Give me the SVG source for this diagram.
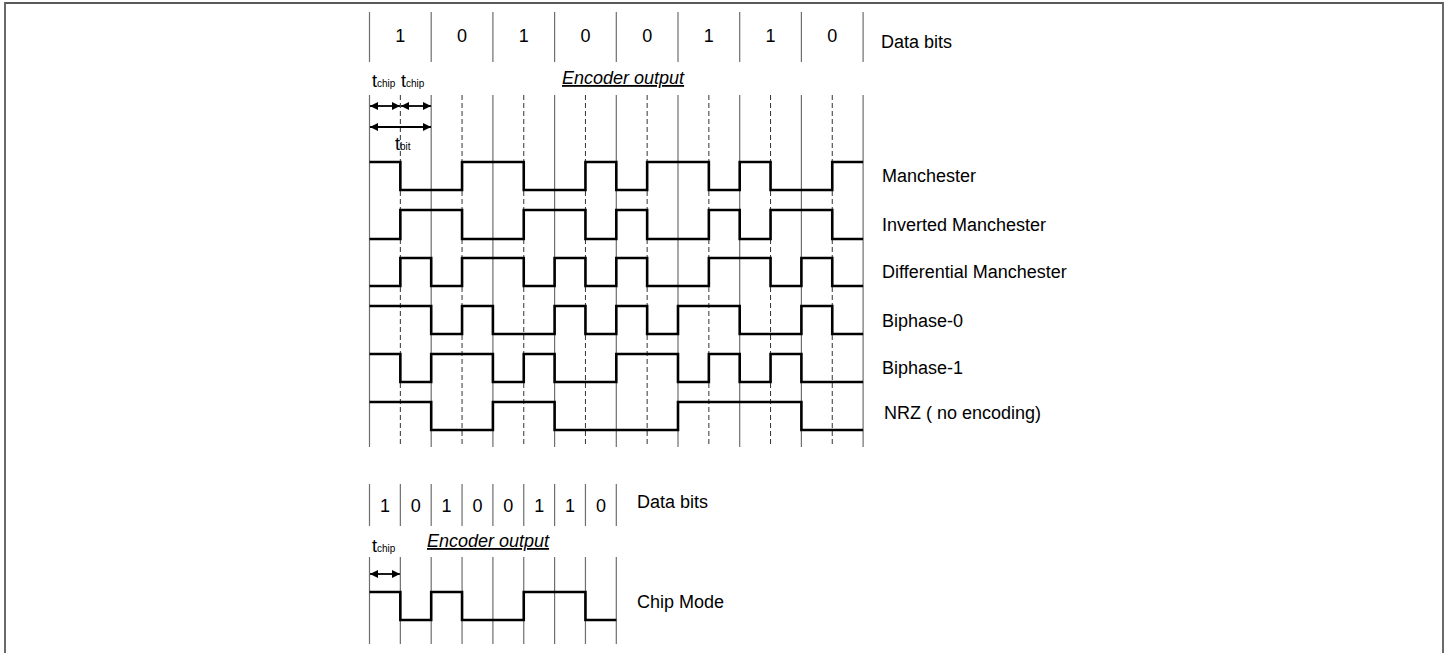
<svg xmlns="http://www.w3.org/2000/svg" width="1448" height="653" viewBox="0 0 1448 653">
<defs>
<style>
text{font-family:"Liberation Sans",Arial,sans-serif;font-size:18px;fill:#000}
.c{text-anchor:middle}
.ital{font-style:italic;text-decoration:underline}
.sub{font-size:10px}
.grid{stroke:#6e6e6e;stroke-width:1.2;fill:none}
.dash{stroke:#333;stroke-width:1;stroke-dasharray:5 3;fill:none}
.wave{stroke:#000;stroke-width:2.6;fill:none;stroke-linejoin:miter}
.arr{stroke:#000;stroke-width:1.8;fill:none;marker-start:url(#ah);marker-end:url(#ah)}
.border{stroke:#5a5a5a;stroke-width:1.8;fill:none}
</style>
<marker id="ah" viewBox="0 0 10 10" refX="10" refY="5" markerUnits="userSpaceOnUse" markerWidth="8" markerHeight="11" orient="auto-start-reverse">
<path d="M0,0 L10,5 L0,10 z" fill="#000"/>
</marker>
</defs>
<rect width="1448" height="653" fill="#fff"/>
<path class="border" d="M5,653 V3 H1443 V653"/>

<g id="top-data-bits">
<path class="grid" d="M369.5,12 V62 M431.2,12 V62 M492.9,12 V62 M554.6,12 V62 M616.3,12 V62 M678,12 V62 M739.7,12 V62 M801.4,12 V62 M863.1,12 V62"/>
<text class="c" x="400.35" y="42">1</text>
<text class="c" x="462.05" y="42">0</text>
<text class="c" x="523.75" y="42">1</text>
<text class="c" x="585.45" y="42">0</text>
<text class="c" x="647.15" y="42">0</text>
<text class="c" x="708.85" y="42">1</text>
<text class="c" x="770.55" y="42">1</text>
<text class="c" x="832.25" y="42">0</text>
<text x="881" y="48">Data bits</text>
</g>

<g id="top-encoder-label">
<text class="ital" x="562" y="84">Encoder output</text>
</g>

<g id="timing-labels">
<text x="372" y="87">t<tspan class="sub">chip</tspan></text>
<text x="401" y="87">t<tspan class="sub">chip</tspan></text>
<text x="395" y="150">t<tspan class="sub">bit</tspan></text>
</g>

<g id="grid-lines">
<path class="grid" d="M369.5,95 V447 M431.2,95 V447 M492.9,95 V447 M554.6,95 V447 M616.3,95 V447 M678,95 V447 M739.7,95 V447 M801.4,95 V447 M863.1,95 V447"/>
<path class="dash" d="M400.35,95 V447 M462.05,95 V447 M523.75,95 V447 M585.45,95 V447 M647.15,95 V447 M708.85,95 V447 M770.55,95 V447 M832.25,95 V447"/>
</g>

<g id="connectors">
<line class="arr" x1="370" y1="106" x2="400" y2="106"/>
<line class="arr" x1="401" y1="106" x2="431" y2="106"/>
<line class="arr" x1="370" y1="127" x2="431" y2="127"/>
<line class="arr" x1="370" y1="574" x2="400" y2="574"/>
</g>

<g id="manchester">
<path class="wave" d="M369.5,162 H400.35 V190 H462.05 V162 H523.75 V190 H585.45 V162 H616.3 V190 H647.15 V162 H708.85 V190 H739.7 V162 H770.55 V190 H832.25 V162 H863.1"/>
<text x="882" y="182">Manchester</text>
</g>
<g id="inverted-manchester">
<path class="wave" d="M369.5,239 H400.35 V210 H462.05 V239 H523.75 V210 H585.45 V239 H616.3 V210 H647.15 V239 H708.85 V210 H739.7 V239 H770.55 V210 H832.25 V239 H863.1"/>
<text x="882" y="231">Inverted Manchester</text>
</g>
<g id="differential-manchester">
<path class="wave" d="M369.5,286 H400.35 V258 H431.2 V286 H462.05 V258 H523.75 V286 H554.6 V258 H585.45 V286 H616.3 V258 H647.15 V286 H708.85 V258 H770.55 V286 H801.4 V258 H832.25 V286 H863.1"/>
<text x="882" y="278">Differential Manchester</text>
</g>
<g id="biphase-0">
<path class="wave" d="M369.5,306 H431.2 V334 H462.05 V306 H492.9 V334 H554.6 V306 H585.45 V334 H616.3 V306 H647.15 V334 H678 V306 H739.7 V334 H801.4 V306 H832.25 V334 H863.1"/>
<text x="882" y="327">Biphase-0</text>
</g>
<g id="biphase-1">
<path class="wave" d="M369.5,354 H400.35 V382 H431.2 V354 H492.9 V382 H523.75 V354 H554.6 V382 H616.3 V354 H678 V382 H708.85 V354 H739.7 V382 H770.55 V354 H801.4 V382 H863.1"/>
<text x="882" y="374">Biphase-1</text>
</g>
<g id="nrz">
<path class="wave" d="M369.5,402 H431.2 V430 H492.9 V402 H554.6 V430 H678 V402 H801.4 V430 H863.1"/>
<text x="884" y="419">NRZ ( no encoding)</text>
</g>

<g id="bottom-data-bits">
<path class="grid" d="M369.5,484 V526 M400.35,484 V526 M431.2,484 V526 M462.05,484 V526 M492.9,484 V526 M523.75,484 V526 M554.6,484 V526 M585.45,484 V526 M616.3,484 V526"/>
<text class="c" x="384.9" y="512">1</text>
<text class="c" x="415.8" y="512">0</text>
<text class="c" x="446.6" y="512">1</text>
<text class="c" x="477.5" y="512">0</text>
<text class="c" x="508.3" y="512">0</text>
<text class="c" x="539.2" y="512">1</text>
<text class="c" x="570" y="512">1</text>
<text class="c" x="600.9" y="512">0</text>
<text x="637" y="508">Data bits</text>
</g>

<g id="bottom-encoder-label">
<text class="ital" x="427" y="547">Encoder output</text>
<text x="372" y="552">t<tspan class="sub">chip</tspan></text>
</g>

<g id="chip-mode">
<path class="grid" d="M369.5,557 V644 M400.35,557 V644 M431.2,557 V644 M462.05,557 V644 M492.9,557 V644 M523.75,557 V644 M554.6,557 V644 M585.45,557 V644 M616.3,557 V644"/>
<path class="wave" d="M369.5,592 H400.35 V620 H431.2 V592 H462.05 V620 H523.75 V592 H585.45 V620 H616.3"/>
<text x="637" y="608">Chip Mode</text>
</g>
</svg>
